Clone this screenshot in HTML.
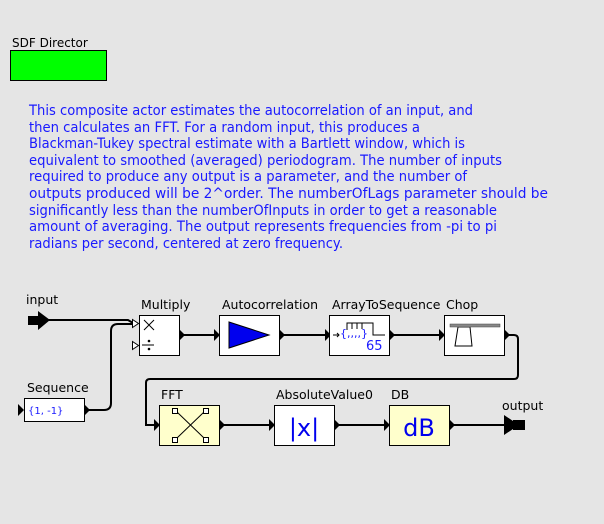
<!DOCTYPE html>
<html><head><style>
html,body{margin:0;padding:0;background:#e5e5e5;}
svg{display:block;font-family:"DejaVu Sans","Liberation Sans",sans-serif;}
</style></head><body>
<svg width="604" height="524" viewBox="0 0 604 524" xmlns="http://www.w3.org/2000/svg">
<rect width="604" height="524" fill="#e5e5e5"/>
<text x="12" y="47" font-size="12" fill="#000">SDF Director</text>
<rect x="10.5" y="50.5" width="96" height="30" fill="#00ff00" stroke="#000"/>
<g fill="#1a1aff" font-size="13.8">
<text x="29" y="115" textLength="444" lengthAdjust="spacingAndGlyphs">This composite actor estimates the autocorrelation of an input, and</text>
<text x="29" y="132" textLength="391" lengthAdjust="spacingAndGlyphs">then calculates an FFT. For a random input, this produces a</text>
<text x="29" y="148" textLength="436" lengthAdjust="spacingAndGlyphs">Blackman-Tukey spectral estimate with a Bartlett window, which is</text>
<text x="29" y="165" textLength="473" lengthAdjust="spacingAndGlyphs">equivalent to smoothed (averaged) periodogram. The number of inputs</text>
<text x="29" y="181" textLength="438" lengthAdjust="spacingAndGlyphs">required to produce any output is a parameter, and the number of</text>
<text x="29" y="198" textLength="519" lengthAdjust="spacingAndGlyphs">outputs produced will be 2^order. The numberOfLags parameter should be</text>
<text x="29" y="215" textLength="468" lengthAdjust="spacingAndGlyphs">significantly less than the numberOfInputs in order to get a reasonable</text>
<text x="29" y="231" textLength="468" lengthAdjust="spacingAndGlyphs">amount of averaging. The output represents frequencies from -pi to pi</text>
<text x="29" y="248" textLength="314" lengthAdjust="spacingAndGlyphs">radians per second, centered at zero frequency.</text>
</g>
<g fill="none" stroke="#000" stroke-width="2">
<path d="M48 320 H128 L133 323"/>
<path d="M88 410 H104 Q111 410 111 403 V331 Q111 324 118 324 H133"/>
<path d="M183 335 H214"/>
<path d="M283 335 H325"/>
<path d="M393 335 H439"/>
<path d="M508 335 H514 Q518 335 518 339 V375 Q518 379 514 379 H150 Q146 379 146 383 V425 H154"/>
<path d="M223 425 H269"/>
<path d="M338 425 H384"/>
<path d="M453 425 H505"/>
</g>
<g fill="#000">
<path d="M28 316 H38 V311 L50 320 L38 330 V325 H28 Z"/>
<path d="M214 329 L220 335 L214 341 Z"/>
<path d="M325 329 L331 335 L325 341 Z"/>
<path d="M439 329 L445 335 L439 341 Z"/>
<path d="M154 419 L160 425 L154 431 Z"/>
<path d="M269 419 L275 425 L269 431 Z"/>
<path d="M384 419 L390 425 L384 431 Z"/>
<path d="M504 415 L513 421 V420 H525 V430 H513 V429 L504 435 Z"/>
<path d="M18 404 L24 410 L18 416 Z"/>
<path d="M84 404 L90 410 L84 416 Z"/>
<path d="M179 329 L185 335 L179 341 Z"/>
<path d="M279 329 L285 335 L279 341 Z"/>
<path d="M389 329 L395 335 L389 341 Z"/>
<path d="M504 329 L510 335 L504 341 Z"/>
<path d="M219 419 L225 425 L219 431 Z"/>
<path d="M334 419 L340 425 L334 431 Z"/>
<path d="M449 419 L455 425 L449 431 Z"/>
</g>
<g font-size="12.5" fill="#000">
<text x="26" y="304">input</text>
<text x="141" y="309">Multiply</text>
<text x="222" y="309">Autocorrelation</text>
<text x="332" y="309">ArrayToSequence</text>
<text x="446" y="309">Chop</text>
<text x="27" y="392">Sequence</text>
<text x="161" y="399">FFT</text>
<text x="276" y="399">AbsoluteValue0</text>
<text x="391" y="399">DB</text>
<text x="502" y="410">output</text>
</g>
<g stroke="#000" stroke-width="1">
<rect x="139.5" y="315.5" width="40" height="40" fill="#fff"/>
<rect x="219.5" y="315.5" width="60" height="40" fill="#fff"/>
<rect x="329.5" y="315.5" width="60" height="40" fill="#fff"/>
<rect x="444.5" y="315.5" width="60" height="40" fill="#fff"/>
<rect x="24.5" y="398.5" width="60" height="23" fill="#fff"/>
<rect x="159.5" y="405.5" width="60" height="40" fill="#ffffcc"/>
<rect x="274.5" y="405.5" width="60" height="40" fill="#fff"/>
<rect x="389.5" y="405.5" width="60" height="40" fill="#ffffcc"/>
</g>
<g fill="#fff" stroke="#000">
<path d="M132.5 319.5 L138.5 323.5 L132.5 327.5 Z"/>
<path d="M132.5 341.5 L138.5 345.5 L132.5 349.5 Z"/>
</g>
<g stroke="#000" stroke-width="1" fill="none">
<path d="M144 320 L154 330 M154 320 L144 330"/>
<path d="M142 345 H154"/>
</g>
<circle cx="149" cy="341" r="1.3" fill="#000"/><circle cx="149" cy="349" r="1.3" fill="#000"/>
<path d="M229 322 L269 335 L229 348 Z" fill="#0000ee" stroke="#000"/>
<g stroke="#000" fill="none">
<path d="M333 335 H339 M337 333 L339 335 L337 337"/>
<path d="M347 330 V323 H373 V335 H385"/>
<path d="M352 323 V329 M357 323 V329 M362 323 V329"/>
<path d="M455 346 L458 327 H470 L472 346 Z" stroke-width="1"/>
</g>
<text x="340" y="337" font-size="11" fill="#1a1aff">{,,,,}</text>
<text x="366" y="350" font-size="13" fill="#1a1aff">65</text>
<rect x="450" y="324" width="50" height="3" fill="#888" stroke="#444" stroke-width="0.5"/>
<text x="28" y="414" font-size="10" fill="#1a1aff">{1, -1}</text>
<g stroke="#000" fill="#fff">
<path d="M177 412 L204 438 M204 412 L177 438" fill="none"/>
<rect x="172.5" y="408.5" width="5" height="5"/>
<rect x="203.5" y="408.5" width="5" height="5"/>
<rect x="172.5" y="437.5" width="5" height="5"/>
<rect x="203.5" y="437.5" width="5" height="5"/>
</g>
<text x="304" y="436" font-size="24" fill="#0000ee" text-anchor="middle">|x|</text>
<text x="419" y="436" font-size="24" fill="#0000ee" text-anchor="middle">dB</text>
</svg>
</body></html>
